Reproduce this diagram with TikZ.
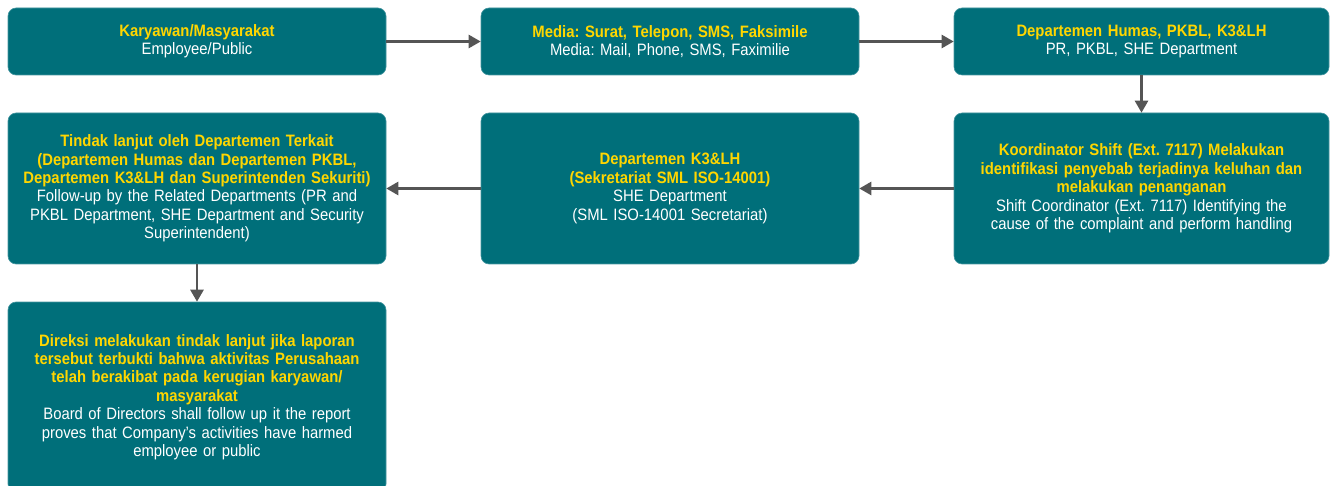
\documentclass[tikz,border=0pt]{standalone}
\usepackage{fontspec}
\setmainfont[FakeStretch=0.9]{Liberation Sans}
\usetikzlibrary{arrows.meta}

\definecolor{tealbox}{RGB}{0,111,122}
\definecolor{tealedge}{RGB}{70,150,160}
\definecolor{titleyellow}{RGB}{255,214,0}
\definecolor{arrowgray}{RGB}{85,85,85}

\tikzset{
	flowbox/.style={draw=tealedge, line width=0.6pt, fill=tealbox, rounded corners=8pt,
		minimum width=378pt, text width=370pt, align=center, text=white,
		font=\fontsize{16.5}{18.4}\selectfont\frenchspacing, inner sep=0pt},
	flowarrow/.style={-{Triangle[length=12pt,width=13pt]}, line width=2.6pt, draw=arrowgray}
}
\newcommand{\judul}[1]{{\color{titleyellow}\bfseries #1}}

\begin{document}
\begin{tikzpicture}[x=1pt,y=-1pt]
%	frame
	\useasboundingbox (0,0) rectangle (1330,486);
	
	\node (karyawan)[flowbox, minimum height=67pt] at (197,41.5) {\judul{Karyawan/Masyarakat}\\Employee/Public};
	\node (media)[flowbox, minimum height=67pt] at (670,41.5) {\judul{Media: Surat, Telepon, SMS, Faksimile}\\Media: Mail, Phone, SMS, Faximilie};
	\node (humas)[flowbox, minimum height=67pt, minimum width=375pt] at (1141.5,41.5) {\judul{Departemen Humas, PKBL, K3\&LH}\\PR, PKBL, SHE Department};
	
	\node (koordinator)[flowbox, minimum height=151pt, minimum width=375pt] at (1141.5,188.5) {\judul{Koordinator Shift (Ext. 7117) Melakukan\\identifikasi penyebab terjadinya keluhan dan\\melakukan penanganan}\\Shift Coordinator (Ext. 7117) Identifying the\\cause of the complaint and perform handling};
	\node (sekretariat)[flowbox, minimum height=151pt] at (670,188.5) {\judul{Departemen K3\&LH\\(Sekretariat SML ISO-14001)}\\SHE Department\\(SML ISO-14001 Secretariat)};
	\node (tindaklanjut)[flowbox, minimum height=151pt] at (197,188.5) {\judul{Tindak lanjut oleh Departemen Terkait\\(Departemen Humas dan Departemen PKBL,\\Departemen K3\&LH dan Superintenden Sekuriti)}\\Follow-up by the Related Departments (PR and\\PKBL Department, SHE Department and Security\\Superintendent)};
	
	\node (direksi)[flowbox, minimum height=190pt] at (197,397) {\judul{Direksi melakukan tindak lanjut jika laporan\\tersebut terbukti bahwa aktivitas Perusahaan\\telah berakibat pada kerugian karyawan/\\masyarakat}\\Board of Directors shall follow up it the report\\proves that Company's activities have harmed\\employee or public};
	
	\draw[flowarrow] (karyawan) -- (media);
	\draw[flowarrow] (media) -- (humas);
	\draw[flowarrow] (humas) -- (koordinator);
	\draw[flowarrow] (koordinator) -- (sekretariat);
	\draw[flowarrow] (sekretariat) -- (tindaklanjut);
	\draw[flowarrow] (tindaklanjut) -- (direksi);
	
\end{tikzpicture}
\end{document}
